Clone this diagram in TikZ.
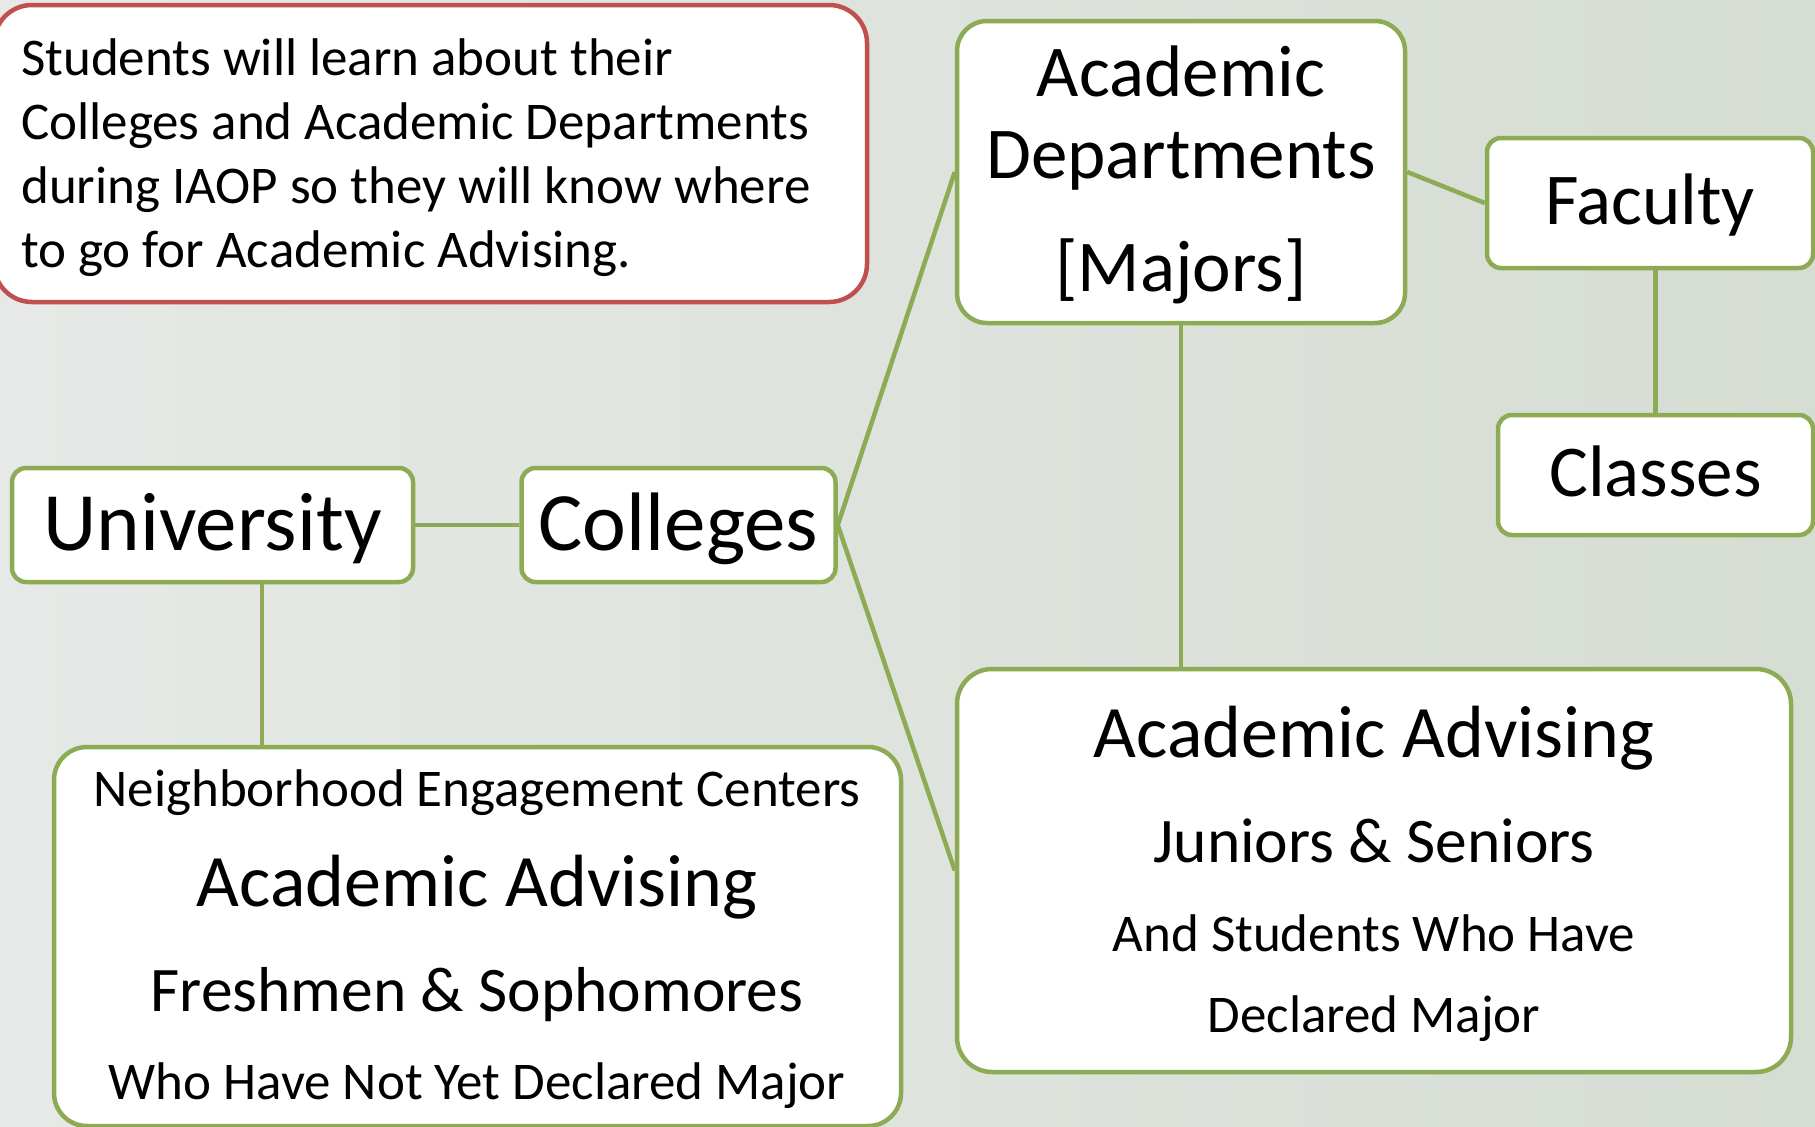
\documentclass[tikz,border=0pt]{standalone}
\usepackage{fontspec}
\setmainfont{Carlito}
\usetikzlibrary{positioning, backgrounds}
\definecolor{mapgreen}{RGB}{141,171,84}
\definecolor{notered}{RGB}{192,80,77}
\definecolor{bgpale}{RGB}{230,233,231}
\definecolor{bgsage}{RGB}{214,221,211}
\tikzset{
box/.style={draw=mapgreen, line width=4.5pt, fill=white, inner sep=0pt, rounded corners=14pt}, % the green boxes
notebox/.style={box, draw=notered, rounded corners=38pt}, % the red note in the corner
link/.style={draw=mapgreen, line width=4.5pt}, % plain lines between boxes
bigword/.style={font=\fontsize{83}{100}\selectfont, text height=62pt, text depth=12pt},
midword/.style={font=\fontsize{73}{88}\selectfont, text height=55pt, text depth=13pt},
notetext/.style={font=\fontsize{53}{64}\selectfont, align=left, inner sep=0pt},
advtitle/.style={font=\fontsize{74}{88}\selectfont, inner sep=0pt, anchor=base},
advyear/.style={font=\fontsize{63.5}{76}\selectfont, inner sep=0pt, anchor=base},
advnote/.style={font=\fontsize{53}{64}\selectfont, inner sep=0pt, anchor=base},
}

\begin{document}
\begin{tikzpicture}[x=1pt, y=-1pt]
\useasboundingbox (0,0) rectangle (1815,1127);

% note (base is the last line)
\node[notebox, minimum width=873pt, minimum height=297pt] (note) at (430.5,153.5) {};
\node[notetext, anchor=base west] (notetxt) at (21,267) {Students will learn about their\\Colleges and Academic Departments\\during IAOP so they will know where\\to go for Academic Advising.};

% top row
\node[box, bigword, minimum width=401pt, minimum height=114pt] (univ) at (212.5,525) {University};
\node[box, bigword, minimum width=314pt, minimum height=114pt, right=104pt of univ] (colleges) {Colleges};

\node[box, rounded corners=30pt, minimum width=448pt, minimum height=302pt] (dept) at (1181,172) {};
\node[advtitle, font=\fontsize{73}{88}\selectfont] (deptA) at (1181,96) {Academic};
\node[advtitle, font=\fontsize{73}{88}\selectfont] (deptB) at (1181,178) {Departments};
\node[advtitle, font=\fontsize{73}{88}\selectfont] (deptC) at (1181,291) {[Majors]};

\node[box, midword, minimum width=326pt, minimum height=130pt] (faculty) at (1650,203) {Faculty};
\node[box, midword, minimum width=315pt, minimum height=120pt] (classes) at (1655.5,475) {Classes};

% advising boxes
\node[box, rounded corners=33pt, minimum width=847pt, minimum height=379pt] (adv1) at (477.5,936.5) {};
\node[advnote] (adv1a) at (477,806) {Neighborhood Engagement Centers};
\node[advtitle] (adv1b) at (477,906) {Academic Advising};
\node[advyear] (adv1c) at (477,1011) {Freshmen \& Sophomores};
\node[advnote] (adv1d) at (477,1099) {Who Have Not Yet Declared Major};

\node[box, rounded corners=35pt, minimum width=834pt, minimum height=403pt] (adv2) at (1374,870.5) {};
\node[advtitle] (adv2a) at (1374,757) {Academic Advising};
\node[advyear] (adv2b) at (1374,862) {Juniors \& Seniors};
\node[advnote] (adv2c) at (1374,951) {And Students Who Have};
\node[advnote] (adv2d) at (1374,1032) {Declared Major};

\begin{scope}[on background layer]
\shade[left color=bgpale, right color=bgsage] (0,0) rectangle (1815,1127);
\draw[link] (univ.east) -- (colleges.west);
\draw[link] ([xshift=49.5pt]univ.south) -- ([xshift=49.5pt]univ.south |- adv1.north);
\draw[link] (colleges.east) -- (dept.west);
\draw[link] (colleges.east) -- (adv2.west);
\draw[link] (dept.south) -- (dept.south |- adv2.north);
\draw[link] (dept.east) -- (faculty.west);
\draw[link] (classes.north) -- (classes.north |- faculty.south);
\end{scope}
\end{tikzpicture}
\end{document}
